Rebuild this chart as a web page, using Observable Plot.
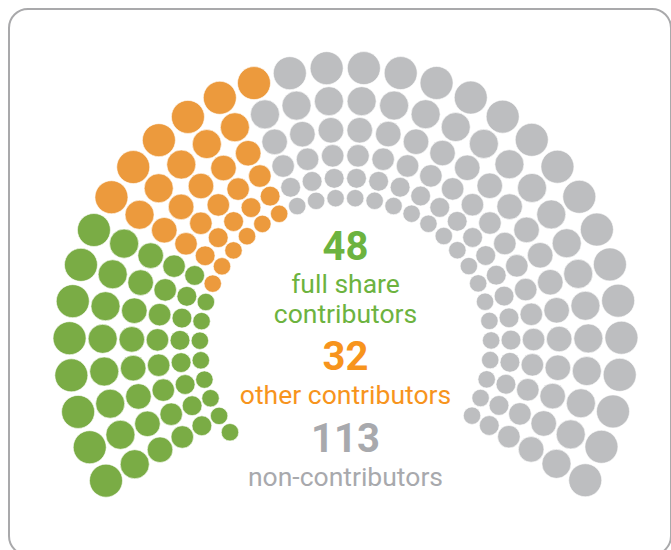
<!DOCTYPE html>
<html>
<head>
<meta charset="utf-8">
<script src="https://cdn.jsdelivr.net/npm/d3@7"></script>
<script src="https://cdn.jsdelivr.net/npm/@observablehq/plot@0.6"></script>
<style>
  html, body { margin: 0; padding: 0; background: #ffffff; overflow: hidden; }
  #wrap { position: relative; width: 671px; height: 550px; overflow: hidden; }
  #frame { position: absolute; left: 8px; top: 8px; width: 664px; height: 548px;
           border: 2px solid #a9a9ab; border-radius: 20px; box-sizing: border-box; pointer-events: none; }
  #chart { position: absolute; left: 0; top: 0; }
</style>
</head>
<body>
<div id="wrap"><div id="chart"></div><div id="frame"></div></div>
<script>
// ---- data ----
const parties = ["full share contributors", "other contributors", "non-contributors"];
const counts = [48, 32, 113];
const seatColors = ["#7aac45", "#ec9a3d", "#bdbec0"];
const textColors = ["#6db33f", "#f7941d", "#a8a9ad"];
const numberLabels = ["48", "32", "113"];
const nameLabels = [["full share", "contributors"], ["other contributors"], ["non-contributors"]];
// seats of each party in each row, rows from inner to outer
const rowFull  = [8, 8, 8, 8, 8, 8];
const rowOther = [6, 5, 5, 5, 5, 6];
const rowNon   = [19, 19, 19, 19, 19, 18];
// first seat step of each row (inner row begins one step earlier)
const rowStartStep = [-1, 0, 0, 0, 0, 0];

// ---- layout (parliament arcs) ----
const cx = 345, cy = 343;
const outerRadius = 276, rowRatio = 0.88, dotRatio = 0.0598;
const startAngle = 209.8, endAngle = -29.7, stepsPerRow = 31;
const step = (startAngle - endAngle) / stepsPerRow;
const nRows = rowFull.length;

const seats = [];
for (let r = 0; r < nRows; r++) {
  const R = outerRadius * Math.pow(rowRatio, nRows - 1 - r);
  const perParty = [rowFull[r], rowOther[r], rowNon[r]];
  let k = rowStartStep[r];
  perParty.forEach((n, p) => {
    for (let i = 0; i < n; i++, k++) {
      const a = (startAngle - k * step) * Math.PI / 180;
      seats.push({party: parties[p], x: cx + R * Math.cos(a), y: cy - R * Math.sin(a), r: R * dotRatio});
    }
  });
}

const numbers = parties.map((p, i) => ({text: numberLabels[i], y: [259, 369, 451][i], color: textColors[i]}));
const names = [];
const nameBaselines = [[292, 322], [403], [485]];
parties.forEach((p, i) => nameLabels[i].forEach((t, j) => names.push({text: t, y: nameBaselines[i][j], color: textColors[i]})));

const chart = Plot.plot({
  width: 671, height: 550,
  marginTop: 0, marginRight: 0, marginBottom: 0, marginLeft: 0,
  x: {domain: [0, 671], range: [0, 671], axis: null},
  y: {domain: [0, 550], range: [0, 550], axis: null},
  r: {type: "identity"},
  color: {domain: parties, range: seatColors},
  style: {fontFamily: "Roboto, 'Open Sans', sans-serif", background: "transparent"},
  marks: [
    Plot.dot(seats, {x: "x", y: "y", r: "r", fill: "party", stroke: "white", strokeWidth: 0.6}),
    Plot.text(numbers, {x: () => cx, y: "y", text: "text", fontSize: 40, fontWeight: 700,
      fill: d => d.color, textAnchor: "middle", lineAnchor: "bottom"}),
    Plot.text(names, {x: () => cx, y: "y", text: "text", fontSize: 26.5, fontWeight: 400,
      fill: d => d.color, textAnchor: "middle", lineAnchor: "bottom"})
  ]
});
document.getElementById("chart").appendChild(chart);
</script>
</body>
</html>
